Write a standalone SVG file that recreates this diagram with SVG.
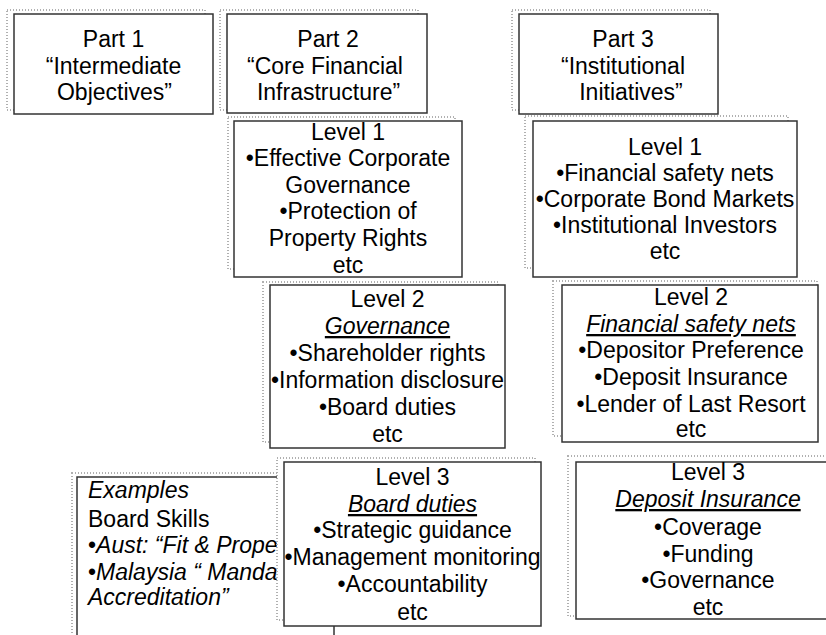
<svg xmlns="http://www.w3.org/2000/svg" width="826" height="635" viewBox="0 0 826 635">
<style>
.sh{fill:#fff;stroke:#b0b0b0;stroke-width:2;stroke-dasharray:1 2}
.bx{fill:#fff;stroke:#333;stroke-width:1.5}
text{font-family:"Liberation Sans",Arial,sans-serif;font-size:23px;fill:#000}
.c{text-anchor:middle}
.u{font-style:italic;text-decoration:underline}
.i{font-style:italic}
</style>
<rect width="826" height="635" fill="#fff"/>
<g id="part1">
<rect class="sh" x="7" y="10" width="198" height="100"/>
<rect class="bx" x="14" y="14" width="199" height="100"/>
<text class="c" x="113.5" y="47">Part 1</text>
<text class="c" x="113.5" y="74">“Intermediate</text>
<text class="c" x="114.5" y="100">Objectives”</text>
</g>
<g id="part2">
<rect class="sh" x="220" y="10" width="198" height="100"/>
<rect class="bx" x="227" y="14" width="200" height="99"/>
<text class="c" x="328" y="47">Part 2</text>
<text class="c" x="325" y="74">“Core Financial</text>
<text class="c" x="328.5" y="100">Infrastructure”</text>
</g>
<g id="part3">
<rect class="sh" x="512" y="10" width="198" height="100"/>
<rect class="bx" x="519" y="14" width="199" height="100"/>
<text class="c" x="623" y="47">Part 3</text>
<text class="c" x="623" y="74">“Institutional</text>
<text class="c" x="631" y="100">Initiatives”</text>
</g>
<g id="level1-left">
<rect class="sh" x="228" y="117" width="227" height="152"/>
<rect class="bx" x="234" y="121" width="228" height="156"/>
<text class="c" x="348" y="140">Level 1</text>
<text class="c" x="348" y="166">•Effective Corporate</text>
<text class="c" x="348" y="193">Governance</text>
<text class="c" x="348" y="219">•Protection of</text>
<text class="c" x="348" y="246">Property Rights</text>
<text class="c" x="348" y="273">etc</text>
</g>
<g id="level1-right">
<rect class="sh" x="525" y="116" width="263" height="152"/>
<rect class="bx" x="533" y="121" width="264" height="156"/>
<text class="c" x="665" y="155">Level 1</text>
<text class="c" x="665" y="181">•Financial safety nets</text>
<text class="c" x="665" y="207">•Corporate Bond Markets</text>
<text class="c" x="665" y="233">•Institutional Investors</text>
<text class="c" x="665" y="259">etc</text>
</g>
<g id="level2-left">
<rect class="sh" x="263" y="282" width="235" height="160"/>
<rect class="bx" x="270" y="285" width="235" height="163"/>
<text class="c" x="387.5" y="307">Level 2</text>
<text class="c u" x="387.5" y="334">Governance</text>
<text class="c" x="387.5" y="361">•Shareholder rights</text>
<text class="c" x="387.5" y="388">•Information disclosure</text>
<text class="c" x="387.5" y="415">•Board duties</text>
<text class="c" x="387.5" y="442">etc</text>
</g>
<g id="level2-right">
<rect class="sh" x="553" y="281" width="264" height="155"/>
<rect class="bx" x="562" y="285" width="256" height="157"/>
<text class="c" x="691" y="305">Level 2</text>
<text class="c u" x="691" y="332">Financial safety nets</text>
<text class="c" x="691" y="358">•Depositor Preference</text>
<text class="c" x="691" y="385">•Deposit Insurance</text>
<text class="c" x="691" y="412">•Lender of Last Resort</text>
<text class="c" x="691" y="437">etc</text>
</g>
<g id="examples">
<rect class="sh" x="72" y="473" width="252" height="170"/>
<rect class="bx" x="77" y="477" width="257" height="170"/>
<text class="i" x="88" y="498">Examples</text>
<text x="88" y="527">Board Skills</text>
<text x="88" y="553">•<tspan class="i">Aust: “Fit &amp; Proper”</tspan></text>
<text x="88" y="580">•<tspan class="i">Malaysia “ Mandatory</tspan></text>
<text class="i" x="88" y="605">Accreditation”</text>
</g>
<g id="level3-left">
<rect class="sh" x="277" y="458" width="258" height="162"/>
<rect class="bx" x="284" y="462" width="257" height="164"/>
<text class="c" x="412.5" y="485">Level 3</text>
<text class="c u" x="412.5" y="512">Board duties</text>
<text class="c" x="412.5" y="538">•Strategic guidance</text>
<text class="c" x="412.5" y="565">•Management monitoring</text>
<text class="c" x="412.5" y="592">•Accountability</text>
<text class="c" x="412.5" y="620">etc</text>
</g>
<g id="level3-right">
<rect class="sh" x="568" y="456" width="262" height="160"/>
<rect class="bx" x="576" y="462" width="264" height="157"/>
<text class="c" x="708" y="480">Level 3</text>
<text class="c u" x="708" y="507">Deposit Insurance</text>
<text class="c" x="708" y="535">•Coverage</text>
<text class="c" x="708" y="562">•Funding</text>
<text class="c" x="708" y="588">•Governance</text>
<text class="c" x="708" y="615">etc</text>
</g>
<g id="connectors"></g>
</svg>
